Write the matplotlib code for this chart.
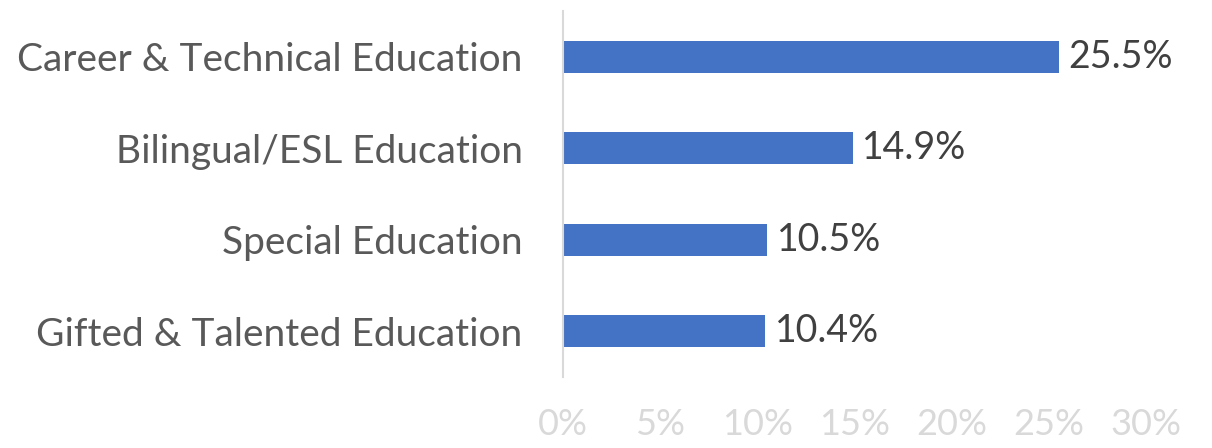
import matplotlib.pyplot as plt
from matplotlib.ticker import FuncFormatter

categories = ["Gifted & Talented Education", "Special Education",
              "Bilingual/ESL Education", "Career & Technical Education"]
values = [10.4, 10.5, 14.9, 25.5]
ticks = [0, 5, 10, 15, 20, 25, 30]

plt.rcParams['font.family'] = ['Lato', 'DejaVu Sans']

fig = plt.figure(figsize=(12.12, 4.48), dpi=100)
ax = fig.add_axes([0.4645, 0.1585, 0.481, 0.817])

bars = ax.barh(range(len(categories)), values, height=0.35, color="#4472c4")
for i, v in enumerate(values):
    ax.text(v + 0.5, i, f"{v}%", va="center", ha="left", fontsize=27, color="#404040")

ax.set_xlim(0, 30)
ax.set_ylim(-0.5, len(categories) - 0.5)
ax.set_yticks(range(len(categories)))
ax.set_yticklabels(categories, fontsize=28, color="#595959")
ax.set_xticks(ticks)
ax.xaxis.set_major_formatter(FuncFormatter(lambda x, p: f"{x:.0f}%"))
ax.tick_params(axis="x", labelsize=26, labelcolor="#d9d9d9", length=0, pad=22)
ax.tick_params(axis="y", length=0, pad=29)

for s in ["top", "right", "bottom"]:
    ax.spines[s].set_visible(False)
ax.spines["left"].set_color("#d9d9d9")
ax.spines["left"].set_linewidth(1.5)

fig.savefig("out.png", dpi=100)
